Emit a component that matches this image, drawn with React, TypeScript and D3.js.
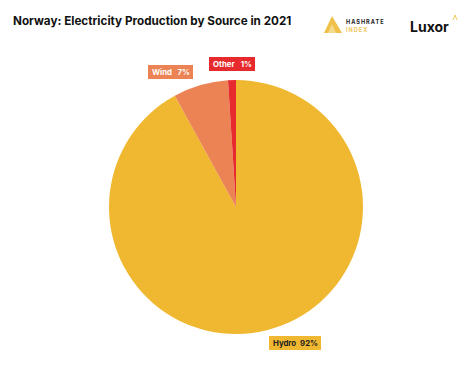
import React from "react";
import * as d3 from "d3";

const sources = ["Hydro", "Wind", "Other"];
const shares = [92, 7, 1];
const colors = ["#F0B830", "#EC8355", "#E62A2D"];

const W = 474, H = 372;
const cx = 236, cy = 207, R = 127;

export default function App() {
  const data = sources.map((s, i) => ({ name: s, value: shares[i], color: colors[i] }));
  const pie = d3.pie<any>().value((d) => d.value).sort(null);
  const arcs = pie(data);
  const arc = d3.arc<any>().innerRadius(0).outerRadius(R);

  const labelPos: Record<string, { x: number; y: number; w: number; fg: string }> = {
    Hydro: { x: 269, y: 336, w: 52, fg: "#222" },
    Wind: { x: 148, y: 65, w: 45, fg: "#fff" },
    Other: { x: 209, y: 57, w: 46, fg: "#fff" },
  };

  return (
    <svg width={W} height={H} style={{ position: "absolute", left: 0, top: 0, background: "#fff" }} fontFamily="Inter, 'Noto Sans', sans-serif">
      <rect width={W} height={H} fill="#fff" />
      <text x={13} y={25} fontSize={11.7} fontWeight={700} fill="#111">Norway: Electricity Production by Source in 2021</text>
      {/* Hashrate Index logo */}
      <g>
        <path d="M324,33 L332,16 L342,33 Z" fill="#EFC04A" />
        <path d="M328,33 L332,24 L336,33 Z" fill="#F6DA8C" />
        <text x={346} y={24} fontSize={5.6} fontWeight={700} letterSpacing={1} fill="#222">HASHRATE</text>
        <text x={346} y={32} fontSize={5.6} fontWeight={700} letterSpacing={1} fill="#F0C860">INDEX</text>
      </g>
      <text x={410} y={32} fontSize={14} fontWeight={700} fill="#111">Luxor</text>
      <path d="M453,20 L455,15 L457,20" fill="none" stroke="#F0C860" strokeWidth={1} />
      <g transform={`translate(${cx},${cy})`}>
        {arcs.map((a, i) => (
          <path key={i} d={arc(a) as string} fill={a.data.color} />
        ))}
      </g>
      {data.map((d) => {
        const p = labelPos[d.name];
        return (
          <g key={d.name}>
            <rect x={p.x} y={p.y} width={p.w} height={14} fill={d.color} />
            <text x={p.x + 4} y={p.y + 10} fontSize={7.8} fontWeight={700} fill={p.fg}>{d.name}</text>
            <text x={p.x + p.w - 3} y={p.y + 10} fontSize={7.8} fontWeight={700} fill={p.fg} textAnchor="end">{d.value}%</text>
          </g>
        );
      })}
    </svg>
  );
}
